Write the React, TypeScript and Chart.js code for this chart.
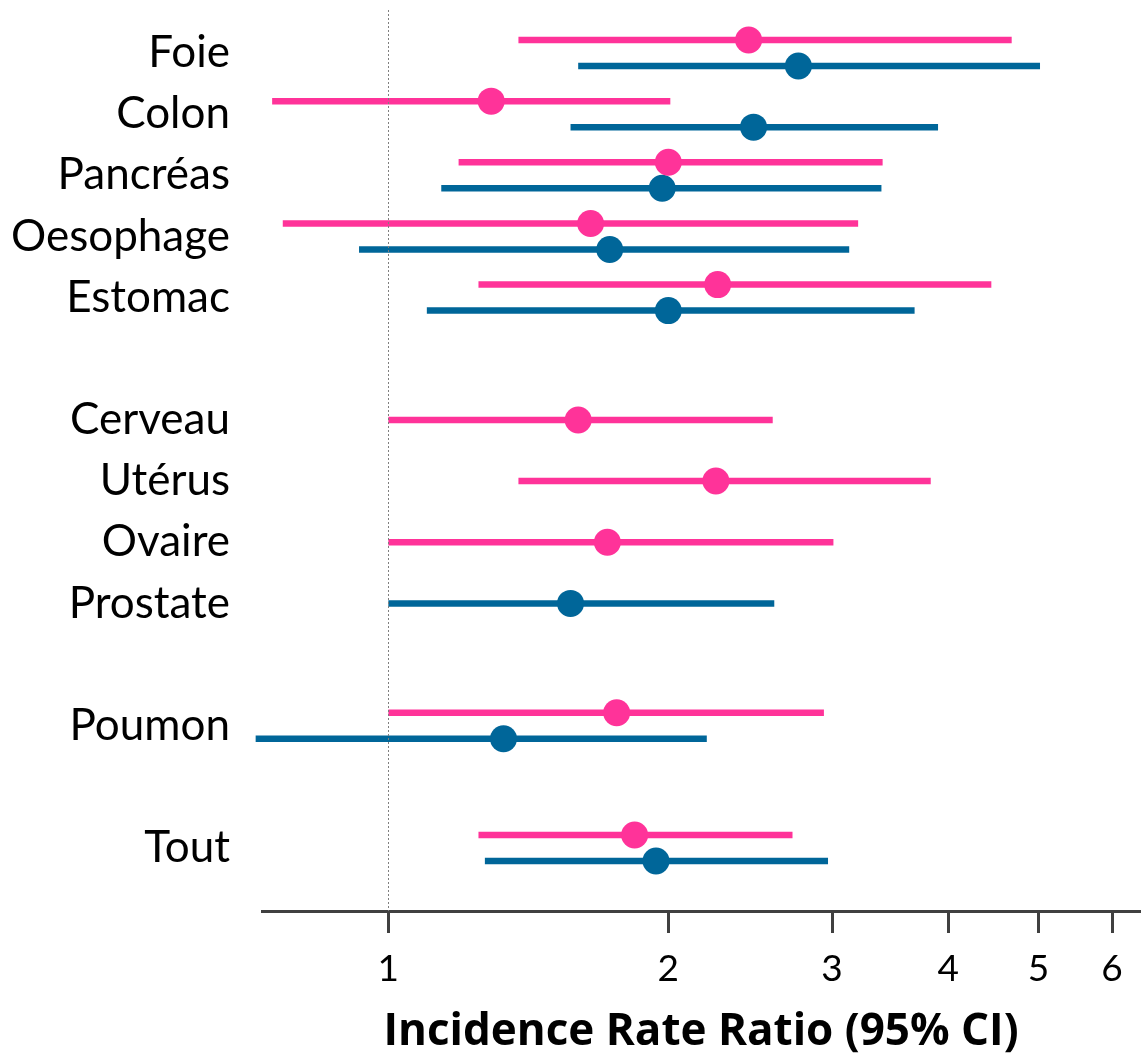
import React, { useEffect, useRef } from "react";
import { Chart, registerables } from "chart.js";

Chart.register(...registerables);

// Rows of the forest plot (empty strings are spacer rows between groups)
const categories = [
  "Foie", "Colon", "Pancréas", "Oesophage", "Estomac", "",
  "Cerveau", "Utérus", "Ovaire", "Prostate", "", "Poumon", "", "Tout",
];

// Women (pink)
const womenEst = [2.44, 1.29, 2.0, 1.65, 2.26, null, 1.6, 2.25, 1.72, null, null, 1.76, null, 1.84];
const womenLo = [1.38, 0.75, 1.19, 0.77, 1.25, null, 1.0, 1.38, 1.0, null, null, 1.0, null, 1.25];
const womenHi = [4.68, 2.01, 3.4, 3.2, 4.45, null, 2.59, 3.83, 3.01, null, null, 2.94, null, 2.72];

// Men (blue)
const menEst = [2.76, 2.47, 1.97, 1.73, 2.0, null, null, null, null, 1.57, null, 1.33, null, 1.94];
const menLo = [1.6, 1.57, 1.14, 0.93, 1.1, null, null, null, null, 1.0, null, 0.72, null, 1.27];
const menHi = [5.02, 3.9, 3.39, 3.13, 3.68, null, null, null, null, 2.6, null, 2.2, null, 2.97];

const xTicks = [1, 2, 3, 4, 5, 6];
const X_MIN = 0.7314;
const X_MAX = 6.43;
const refValue = 1;
const xTitle = "Incidence Rate Ratio (95% CI)";

const PINK = "#FF3399";
const BLUE = "#006699";
const AXIS = "#404040";
const FONT = "Lato, 'Open Sans', sans-serif";
const TITLE_FONT = "'Open Sans', Lato, sans-serif";

const noPadding = () => ({ left: 0, right: 0, top: 0, bottom: 0 });

export default function App() {
  const ref = useRef<HTMLCanvasElement | null>(null);

  useEffect(() => {
    document.body.style.margin = "0";
    const canvas = ref.current;
    if (!canvas) return;

    const OFF = 0.2126;
    const datasets: any[] = [];
    const series = [
      { est: womenEst, lo: womenLo, hi: womenHi, color: PINK, other: menEst, sign: -1 },
      { est: menEst, lo: menLo, hi: menHi, color: BLUE, other: womenEst, sign: 1 },
    ];
    series.forEach((s) => {
      const pts: any[] = [];
      categories.forEach((_, i) => {
        const e = s.est[i];
        if (e == null) return;
        const y = s.other[i] != null ? i + s.sign * OFF : i;
        datasets.push({
          type: "line",
          data: [
            { x: s.lo[i], y },
            { x: s.hi[i], y },
          ],
          borderColor: s.color,
          borderWidth: 6.5,
          pointRadius: 0,
          borderCapStyle: "butt",
          clip: false,
          order: 2,
        });
        pts.push({ x: e, y });
      });
      datasets.push({
        type: "scatter",
        data: pts,
        pointRadius: 13.5,
        pointHoverRadius: 13.5,
        pointBackgroundColor: s.color,
        pointBorderWidth: 0,
        borderWidth: 0,
        clip: false,
        order: 1,
      });
    });

    const refLine = {
      id: "refLine",
      afterDatasetsDraw(chart: any) {
        const { ctx, chartArea, scales } = chart;
        const x = Math.round(scales.x.getPixelForValue(refValue)) + 0.5;
        ctx.save();
        ctx.strokeStyle = "#7f7f7f";
        ctx.lineWidth = 1;
        ctx.setLineDash([2, 2]);
        ctx.beginPath();
        ctx.moveTo(x, chartArea.top);
        ctx.lineTo(x, chartArea.bottom);
        ctx.stroke();
        ctx.restore();
      },
    };

    const chart = new Chart(canvas, {
      type: "scatter",
      data: { datasets },
      plugins: [refLine],
      options: {
        animation: false,
        responsive: false,
        events: [],
        layout: { autoPadding: false, padding: { top: 10, right: 3, left: 0, bottom: 0 } },
        plugins: { legend: { display: false }, tooltip: { enabled: false } },
        scales: {
          x: {
            type: "logarithmic",
            bounds: "data",
            min: X_MIN,
            max: X_MAX,
            afterBuildTicks: (scale: any) => {
              scale.ticks = xTicks.map((v) => ({ value: v }));
              scale.min = X_MIN;
              scale.max = X_MAX;
            },
            afterFit: (scale: any) => {
              scale.height = 150;
              scale.paddingLeft = 0;
              scale.paddingRight = 0;
              scale.getPadding = noPadding;
            },
            ticks: {
              autoSkip: false,
              maxRotation: 0,
              color: "#000",
              padding: 14,
              font: { family: FONT, size: 37 },
              callback: (v: any) => String(v),
            },
            grid: {
              drawOnChartArea: false,
              drawTicks: true,
              tickLength: 22,
              tickWidth: 3,
              tickColor: AXIS,
            },
            border: { display: true, color: AXIS, width: 3 },
            title: {
              display: true,
              text: xTitle,
              color: "#000",
              font: { family: TITLE_FONT, size: 44, weight: "bold" },
              padding: { top: 0, bottom: 2 },
            },
          },
          y: {
            type: "linear",
            reverse: true,
            min: -0.703,
            max: 14.03,
            afterBuildTicks: (scale: any) => {
              scale.ticks = categories
                .map((c, i) => ({ value: i, c }))
                .filter((t) => t.c !== "")
                .map((t) => ({ value: t.value }));
            },
            afterFit: (scale: any) => {
              scale.width = 262;
              scale.paddingTop = 0;
              scale.paddingBottom = 0;
              scale.getPadding = noPadding;
            },
            ticks: {
              autoSkip: false,
              color: "#000",
              padding: 32,
              font: { family: FONT, size: 44 },
              callback: (v: any) => categories[v as number] ?? "",
            },
            grid: { display: false, drawTicks: false },
            border: { display: false },
          },
        },
      },
    } as any);

    return () => chart.destroy();
  }, []);

  return (
    <div style={{ width: 1143, height: 1061 }}>
      <canvas ref={ref} width={1143} height={1061} />
    </div>
  );
}
